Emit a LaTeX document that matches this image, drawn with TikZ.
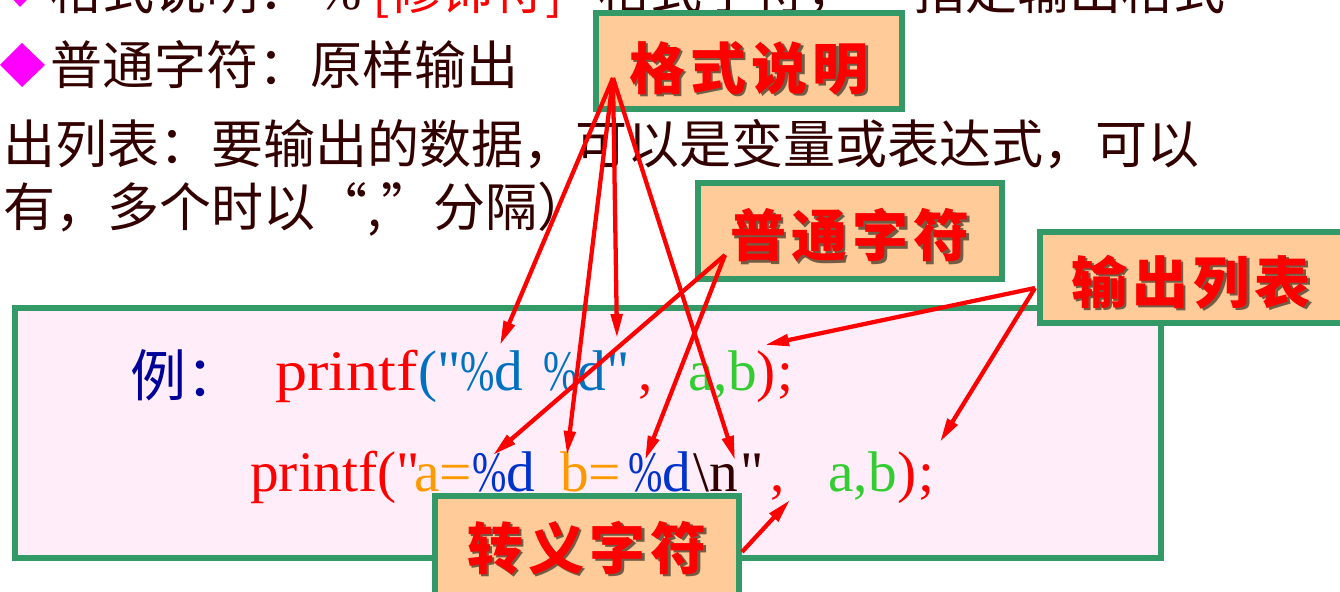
\documentclass[tikz,border=0pt]{standalone}
\usepackage{fontspec}
\usepackage{graphicx}
\setmainfont{Liberation Serif}[Ligatures=TeXOff]
\newfontfamily\cjk{Noto Sans CJK SC}
\usetikzlibrary{arrows.meta}
\definecolor{boxgreen}{HTML}{339966}
\definecolor{pinkfill}{HTML}{FFEEFA}
\definecolor{lblfill}{HTML}{FFCC99}
\definecolor{bodytext}{HTML}{330000}
\definecolor{bullet}{HTML}{FF00FF}
\definecolor{codeblue}{HTML}{0070C0}
\definecolor{codeblueb}{HTML}{0033CC}
\definecolor{codeorange}{HTML}{FF9900}
\definecolor{codegreen}{HTML}{33CC33}
\definecolor{lidark}{HTML}{000099}
\newcommand{\lgap}{\hspace{4pt}}
\newcommand{\pct}{\scalebox{0.72}[1]{\%}}
\begin{document}
\begin{tikzpicture}[x=0.75pt,y=-0.75pt,
  body/.style={inner sep=0pt, anchor=base west, text=bodytext, font=\cjk\fontsize{39pt}{39pt}\selectfont},
  code/.style={inner sep=0pt, anchor=base west, font=\fontsize{43pt}{43pt}\selectfont},
  lblbox/.style={draw=boxgreen, line width=4.5pt, fill=lblfill, inner sep=0pt},
  lbltext/.style={inner sep=0pt, text=red, font=\cjk\bfseries\fontsize{42pt}{42pt}\selectfont},
  lblshadow/.style={inner sep=0pt, text=black, text opacity=0.55, font=\cjk\bfseries\fontsize{42pt}{42pt}\selectfont},
  arr/.style={draw=red, line width=3.2pt, -{Triangle[length=18pt,width=8.5pt]}},
  bul/.style={fill=bullet, draw=none}
]
\clip (0,0) rectangle (1340,592);
\useasboundingbox (0,0) rectangle (1340,592);
\fill[white] (0,0) rectangle (1340,592);

% ---- bullets
\fill[bul] (0,-15) -- (20,-37) -- (42,-15) -- (20,7) -- cycle;
\fill[bul] (0,65) -- (22,43) -- (45,65) -- (22,87) -- cycle;

% ---- body text
\node[body] (l1a) at (50,10) {格式说明：};
\node[body, font=\fontsize{39pt}{39pt}\selectfont] (l1b) at (318,10) {\%};
\node[body, text=red] (l1c) at (372,10) {[修饰符]};
\node[body] (l1d) at (598,10) {格式字符，};
\node[body] (l1e) at (913,10) {指定输出格式};
\node[body] (l2) at (50,85) {普通字符：原样输出};
\node[body] (l3) at (3,163) {出列表：要输出的数据，可以是变量或表达式，可以};
\node[body] (l4) at (3,226) {有，多个时以“,”分隔）};

% ---- example box
\node[draw=boxgreen, line width=5pt, fill=pinkfill, minimum width=1146*0.75pt, minimum height=250*0.75pt, inner sep=0pt] (ex) at (588,433) {};

\node[inner sep=0pt, anchor=base west, text=lidark, font=\cjk\fontsize{42pt}{42pt}\selectfont] (li) at (130,396) {例：};

% line 1 of code
\node[code, text=red] (c1a) at (275,390) {\scalebox{1.12}[1]{printf}};
\node[code, text=codeblue] (c1b) at (418,390) {("};
\node[code, text=codeblue] (c1c) at (460,390) {\pct d};
\node[code, text=codeblue] (c1d) at (543,390) {\pct d"};
\node[code, text=red] (c1e) at (638,390) {,};
\node[code, text=codegreen] (c1f) at (688,390) {a,b};
\node[code, text=red] (c1g) at (756,390) {)};
\node[code, text=red] (c1h) at (777,390) {;};

% line 2 of code
\node[code, text=red] (c2a) at (250,491) {printf(};
\node[code, text=red] (c2b) at (396,491) {"};
\node[code, text=codeorange] (c2c) at (414,491) {a=};
\node[code, text=codeblueb] (c2d) at (472,491) {\pct d};
\node[code, text=codeorange] (c2e) at (560,491) {b=};
\node[code, text=codeblueb] (c2f) at (628,491) {\pct d};
\node[code, text=bodytext] (c2g) at (693,491) {\textbackslash n};
\node[code, text=bodytext] (c2h) at (740,491) {"};
\node[code, text=red] (c2i) at (770,491) {,};
\node[code, text=codegreen] (c2j) at (828,491) {a,b};
\node[code, text=red] (c2k) at (897,491) {)};
\node[code, text=red] (c2l) at (918,491) {;};

% ---- label boxes
\node[lblbox, minimum width=306*0.75pt, minimum height=96*0.75pt] (bgs) at (749,61) {};
\node[lblshadow] (sgs) at (751.5,70.5) {格\lgap 式\lgap 说\lgap 明};
\node[lbltext] (tgs) at (749,68) {格\lgap 式\lgap 说\lgap 明};

\node[lblbox, minimum width=304*0.75pt, minimum height=96*0.75pt] (bpt) at (850,231) {};
\node[lblshadow] (spt) at (852.5,237.5) {普\lgap 通\lgap 字\lgap 符};
\node[lbltext] (tpt) at (850,235) {普\lgap 通\lgap 字\lgap 符};

\node[lblbox, minimum width=306*0.75pt, minimum height=91*0.75pt] (bsc) at (1193,277) {};
\node[lblshadow] (ssc) at (1193.5,284.5) {输\lgap 出\lgap 列\lgap 表};
\node[lbltext] (tsc) at (1191,282) {输\lgap 出\lgap 列\lgap 表};

\node[lblbox, minimum width=304*0.75pt, minimum height=100*0.75pt] (bzy) at (587,546) {};
\node[lblshadow] (szy) at (589.5,550.5) {转\lgap 义\lgap 字\lgap 符};
\node[lbltext] (tzy) at (587,548) {转\lgap 义\lgap 字\lgap 符};

% ---- arrow anchors
\coordinate (gs) at (613,78);
\coordinate (g1) at (500,345);
\coordinate (g2) at (567,455);
\coordinate (g3) at (617,338);
\coordinate (g4) at (735,460);
\coordinate (pt) at (725,255);
\coordinate (p1) at (493,455);
\coordinate (p2) at (645,460);
\coordinate (sc) at (1035,288);
\coordinate (s1) at (765,345);
\coordinate (s2) at (940,442);
\coordinate (zy) at (742,552);
\coordinate (z1) at (790,500);

\draw[arr] (pt) -- (p1);
\draw[arr] (pt) -- (p2);
\draw[arr] (gs) -- (g1);
\draw[arr] (gs) -- (g2);
\draw[arr] (gs) -- (g3);
\draw[arr] (gs) -- (g4);
\draw[arr] (sc) -- (s1);
\draw[arr] (sc) -- (s2);
\draw[arr] (zy) -- (z1);
\end{tikzpicture}
\end{document}
